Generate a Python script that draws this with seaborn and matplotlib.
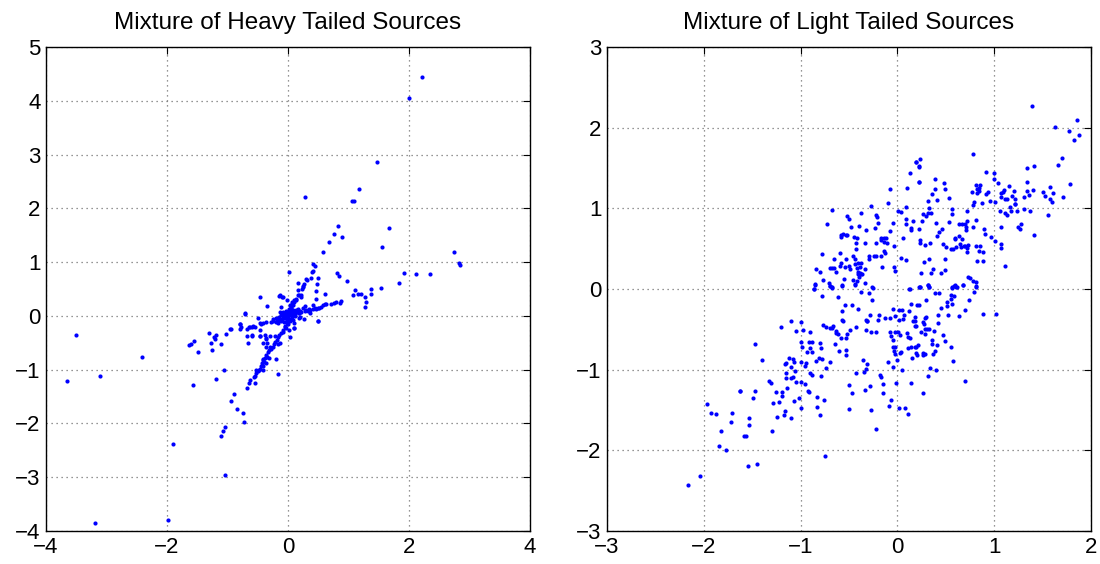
import matplotlib.pyplot as plt
import pandas as pd
import seaborn as sns

# points (x, y)
heavy_points = [
    (2.215, 4.44), (2.0, 4.06), (1.465, 2.87), (1.18, 2.36), (0.28, 2.22), (1.06, 2.13), (1.09, 2.13),
    (1.675, 1.64), (0.826, 1.67), (0.754, 1.52), (0.90, 1.46), (0.677, 1.37), (1.559, 1.28), (0.578, 1.18),
    (2.737, 1.19), (2.83, 0.98), (2.85, 0.94), (0.016, 0.81), (0.41, 0.96), (0.45, 0.92), (0.39, 0.82),
    (0.42, 0.84), (0.29, 0.69), (0.38, 0.71), (0.50, 0.70), (0.81, 0.80), (0.85, 0.74), (0.97, 0.65),
    (1.92, 0.80), (2.12, 0.775), (2.35, 0.78), (1.84, 0.61), (0.27, 0.59), (0.48, 0.59),
    (1.54, 0.51), (1.37, 0.50), (1.37, 0.41), (1.07, 0.38), (1.15, 0.40), (1.21, 0.40), (1.11, 0.48),
    (1.27, 0.35), (1.29, 0.25), (1.27, 0.17), (0.61, 0.41), (0.47, 0.47),
    (0.876, 0.28), (0.853, 0.24), (0.793, 0.25), (0.754, 0.24), (0.711, 0.22), (0.61, 0.22), (0.58, 0.20),
    (0.545, 0.17), (0.49, 0.15), (0.446, 0.14), (0.407, 0.12), (0.369, 0.11), (0.324, 0.10), (0.30, 0.11),
    (0.275, 0.10), (0.22, 0.08), (0.187, 0.06), (0.63, 0.22), (0.51, 0.15), (0.46, 0.13), (0.35, 0.12),
    (0.50, -0.10), (0.41, 0.20), (0.47, 0.31), (0.28, 0.19), (0.36, 0.06), (0.20, -0.02), (0.27, -0.05),
    (0.10, -0.22), (0.02, -0.26),
    (0.16, 0.48), (0.19, 0.38), (0.21, 0.39), (0.14, 0.31), (0.10, 0.30), (0.05, 0.20), (0.08, 0.11),
    (0.24, 0.53), (0.32, 0.66), (0.16, 0.61), (0.25, 0.55), (0.23, 0.50), (0.105, 0.25), (0.13, 0.30),
    (0.165, 0.38), (0.215, 0.36), (0.077, 0.20), (0.05, 0.16), (0.033, 0.11), (0.0, 0.08), (-0.044, 0.05),
    (-0.088, 0.02),
    (-0.47, 0.36), (-0.14, 0.39), (-0.09, 0.35), (-0.34, 0.19), (-0.71, 0.05), (-0.155, 0.37),
    (-0.115, 0.17), (-0.14, 0.08), (-0.02, 0.30),
    (-0.14, -0.07), (-0.2, -0.04), (-0.25, -0.06), (-0.28, -0.11), (-0.36, -0.12), (-0.42, -0.14),
    (-0.45, -0.15), (-0.55, -0.2), (-0.6, -0.2), (-0.64, -0.21), (-0.8, -0.15), (-0.79, -0.25),
    (-0.77, -0.20), (-0.95, -0.25), (-0.68, -0.24), (-0.63, -0.20), (-0.585, -0.19), (-0.50, -0.04),
    (-0.47, -0.14), (-0.46, -0.26),
    (-0.02, -0.136), (-0.044, -0.198), (-0.088, -0.26), (-0.11, -0.32), (-0.143, -0.35), (-0.17, -0.39),
    (-0.187, -0.45), (-0.21, -0.48), (-0.226, -0.52), (-0.253, -0.57), (-0.28, -0.61), (-0.31, -0.64),
    (-0.336, -0.67), (-0.364, -0.72), (-0.386, -0.79), (-0.408, -0.82), (-0.43, -0.88), (-0.446, -0.94),
    (-0.474, -1.0), (-0.5, -1.03), (-0.53, -1.07), (-0.55, -1.12), (-0.17, -1.08), (-0.2, -0.8),
    (-0.14, -0.51), (-0.165, -0.53), (-0.22, -0.37), (-0.29, -0.37), (-0.36, -0.43), (-0.34, -0.77),
    (-0.31, -0.79), (-0.36, -0.87), (-0.42, -0.93), (-0.39, -0.85), (-0.42, -0.81), (-0.42, -1.0),
    (-0.47, -0.99), (-0.53, -1.01), (-0.57, -1.13), (-0.54, -1.25), (-0.62, -1.20), (-0.64, -1.24),
    (-0.68, -1.35), (-0.89, -1.45), (-0.95, -1.59), (-0.84, -1.74), (-0.74, -1.80), (-0.73, -1.98),
    (-1.04, -2.07), (-1.07, -2.14), (-1.10, -2.24), (-1.04, -2.96), (-1.90, -2.38), (-1.99, -3.79),
    (-3.19, -3.86),
    (-0.38, -0.36), (-0.36, -0.41), (-0.42, -0.51), (-0.36, -0.57), (-0.34, -0.50), (-0.29, -0.57),
    (-0.67, -0.37), (-0.66, -0.51), (-0.60, -0.37), (-0.46, -0.38), (-0.47, -0.38), (-0.60, -0.36),
    (-3.51, -0.35), (-3.65, -1.21), (-3.10, -1.12), (-2.41, -0.76), (-1.06, -1.01), (-1.19, -1.18),
    (-1.57, -1.29), (-1.63, -0.54), (-1.60, -0.52), (-1.55, -0.47), (-1.49, -0.67), (-1.31, -0.32),
    (-1.23, -0.40), (-1.20, -0.43), (-1.19, -0.35), (-1.27, -0.50), (-1.25, -0.64), (-1.11, -0.53),
    (-1.02, -0.34), (-0.96, -0.25), (-0.80, -0.15), (-0.71, 0.04), (-0.10, 0.35),
    (0.094, -0.23), (0.094, -0.14), (0.04, -0.40), (0.19, -0.04), (0.49, -0.09),
    (0.0, 0.0), (0.02, 0.01), (-0.03, 0.02), (0.05, 0.03), (-0.05, -0.04), (0.08, 0.04), (-0.08, -0.03),
    (0.03, -0.05), (-0.02, -0.08), (0.1, 0.06), (-0.1, -0.06), (0.12, 0.03), (0.06, 0.09), (-0.06, 0.05),
    (0.01, 0.12), (-0.12, -0.1), (0.15, 0.08), (-0.15, -0.02), (0.04, -0.1), (-0.04, 0.1), (0.07, -0.02),
    (-0.07, -0.12), (0.13, 0.11), (0.09, -0.07), (-0.09, 0.08), (0.18, 0.05), (-0.18, -0.08), (0.02, 0.05),
    (-0.01, -0.03), (0.11, 0.0), (-0.11, 0.01), (0.0, -0.15), (0.05, 0.15), (-0.05, -0.18), (0.16, 0.13),
    (-0.16, -0.14), (0.2, 0.1), (-0.2, -0.12), (0.25, 0.14), (-0.25, -0.1), (0.03, 0.2), (-0.03, -0.22),
    (0.07, 0.25), (-0.08, -0.3),
]

light_points = [
    # upper half, middle
    (0.19, 1.57), (0.22, 1.52), (0.128, 1.44), (0.224, 1.33), (-0.079, 1.245), (0.097, 1.25),
    (-0.097, 1.06), (-0.272, 1.034), (0.09, 1.017), (-0.676, 0.984), (0.01, 0.964), (0.034, 0.951),
    (-0.372, 0.947), (-0.517, 0.906), (-0.503, 0.873), (-0.221, 0.918), (-0.21, 0.889), (-0.724, 0.80),
    (-0.2, 0.815), (-0.045, 0.819), (0.09, 0.864), (0.09, 0.80), (0.159, 0.844), (-0.483, 0.765),
    (-0.393, 0.786), (-0.321, 0.732), (-0.231, 0.761), (-0.076, 0.724), (0.138, 0.761), (0.138, 0.732),
    (-0.583, 0.666), (-0.566, 0.678), (-0.534, 0.666), (-0.521, 0.674), (-0.579, 0.641), (-0.445, 0.641),
    (-0.417, 0.633), (-0.424, 0.567), (-0.338, 0.567), (-0.221, 0.571), (-0.166, 0.629), (-0.141, 0.629),
    (-0.114, 0.629), (-0.166, 0.608), (-0.134, 0.583), (-0.103, 0.571), (-0.031, 0.534), (0.059, 0.633),
    (-0.424, 0.50), (-0.776, 0.43), (-0.59, 0.447), (-0.459, 0.405), (-0.441, 0.368), (-0.141, 0.467),
    (-0.124, 0.447), (-0.169, 0.414), (-0.221, 0.409), (-0.238, 0.409), (-0.293, 0.409), (-0.29, 0.368),
    (-0.652, 0.376), (-0.534, 0.376), (0.041, 0.385), (0.09, 0.364), (-0.845, 0.244), (-0.797, 0.207),
    (-0.693, 0.256), (-0.676, 0.26), (-0.652, 0.26), (-0.631, 0.215), (-0.593, 0.29), (-0.583, 0.323),
    (-0.538, 0.277), (-0.497, 0.285), (-0.493, 0.252), (-0.438, 0.306), (-0.407, 0.327), (-0.417, 0.265),
    (-0.372, 0.323), (-0.383, 0.277), (-0.334, 0.252), (-0.369, 0.186), (-0.403, 0.215), (-0.39, 0.203),
    (-0.372, 0.182), (-0.407, 0.182), (-0.393, 0.153), (-0.162, 0.273), (-0.034, 0.277), (-0.024, 0.219),
    (-0.772, 0.112), (-0.548, 0.128), (-0.459, 0.112), (-0.417, 0.10), (-0.438, 0.062), (-0.707, 0.07),
    (-0.693, 0.041), (-0.672, 0.029), (-0.848, 0.058), (-0.866, 0.0), (-0.576, 0.045), (-0.334, 0.079),
    (-0.259, 0.021), (0.134, 0.004), (0.221, 0.021),
    # upper half, right
    (1.389, 2.266), (1.855, 2.10), (1.624, 2.006), (1.776, 1.956), (1.875, 1.907), (1.824, 1.845),
    (0.776, 1.671), (0.234, 1.617), (0.197, 1.572), (0.218, 1.51), (1.70, 1.625), (1.655, 1.538),
    (1.344, 1.505), (1.41, 1.522), (0.227, 1.332), (0.92, 1.447), (1.0, 1.435), (0.993, 1.365),
    (0.393, 1.365), (0.479, 1.311), (0.389, 1.245), (0.496, 1.241), (0.355, 1.175), (0.32, 1.088),
    (0.413, 1.108), (0.534, 1.129), (0.813, 1.294), (0.858, 1.286), (0.82, 1.241), (0.841, 1.249),
    (0.848, 1.22), (0.769, 1.208), (0.827, 1.187), (0.913, 1.175), (0.934, 1.203), (0.793, 1.075),
    (0.782, 1.046), (0.879, 1.063), (0.955, 1.096), (1.013, 1.084), (1.038, 1.311), (1.075, 1.187),
    (1.103, 1.228), (1.089, 1.199), (1.068, 1.146), (1.11, 1.121), (1.131, 1.121), (1.158, 1.282),
    (1.182, 1.154), (1.2, 1.212), (1.213, 1.121), (1.21, 1.055), (1.307, 1.137), (1.341, 1.22),
    (1.362, 1.166), (1.403, 1.224), (1.341, 1.323), (1.503, 1.208), (1.52, 1.154), (1.576, 1.27),
    (1.61, 1.195), (1.572, 1.112), (1.6, 1.079), (1.71, 1.146), (1.782, 1.303), (0.317, 0.939),
    (0.351, 0.939), (0.327, 1.0), (0.265, 0.926), (0.296, 0.906), (0.562, 0.988), (0.562, 0.926),
    (0.717, 0.964), (1.058, 0.972), (1.11, 0.939), (1.131, 0.918), (1.165, 1.021), (1.169, 0.964),
    (1.231, 0.964), (1.213, 1.055), (1.313, 0.992), (1.375, 0.968), (1.559, 0.914), (0.258, 0.84),
    (0.4, 0.823), (0.534, 0.827), (0.665, 0.806), (0.7, 0.806), (0.638, 0.802), (0.724, 0.848),
    (0.817, 0.856), (0.71, 0.769), (0.782, 0.765), (0.713, 0.732), (0.227, 0.74), (0.462, 0.749),
    (0.434, 0.707), (0.407, 0.662), (0.896, 0.74), (0.903, 0.678), (0.972, 0.645), (1.007, 0.60),
    (1.072, 0.769), (1.241, 0.765), (1.269, 0.744), (1.276, 0.802), (1.406, 0.666), (0.234, 0.608),
    (0.237, 0.575), (0.334, 0.567), (0.286, 0.55), (0.469, 0.558), (0.503, 0.517), (0.551, 0.50),
    (0.579, 0.50), (0.606, 0.525), (0.596, 0.625), (0.596, 0.637), (0.638, 0.653), (0.672, 0.625),
    (0.648, 0.562), (0.662, 0.525), (0.686, 0.533), (0.703, 0.538), (0.731, 0.542), (0.724, 0.509),
    (0.72, 0.463), (0.807, 0.538), (0.855, 0.529), (0.841, 0.476), (0.886, 0.455), (0.827, 0.352),
    (0.889, 0.343), (1.068, 0.558), (1.072, 0.505), (1.107, 0.285), (0.279, 0.339), (0.331, 0.368),
    (0.372, 0.244), (0.345, 0.194), (0.244, 0.194), (0.493, 0.368), (0.496, 0.24), (0.451, 0.194),
    (0.317, 0.05), (0.331, 0.029), (0.231, 0.021), (0.565, 0.021), (0.6, 0.045), (0.617, 0.021),
    (0.682, 0.05), (0.734, 0.153), (0.745, 0.136), (0.786, 0.099), (0.807, 0.087), (0.807, 0.037),
    # lower tail, left
    (-1.624, -1.261), (-1.969, -1.423), (-1.928, -1.534), (-1.872, -1.551), (-1.71, -1.543),
    (-1.717, -1.646), (-1.824, -1.766), (-1.848, -1.952), (-1.772, -1.998), (-2.038, -2.316),
    (-2.162, -2.432), (-1.586, -1.82),
    # lower half, middle
    (-0.848, 0.05), (-0.866, -0.004), (-0.7, 0.037), (-0.679, 0.017), (-0.576, 0.041), (-0.438, 0.05),
    (-0.379, -0.041), (-0.293, -0.05), (-0.255, 0.017), (-0.262, -0.136), (-0.776, -0.091),
    (-0.617, -0.099), (-0.545, -0.203), (-0.469, -0.203), (-0.403, -0.252), (-0.576, -0.277),
    (-0.569, -0.385), (-0.562, -0.397), (-0.286, -0.323), (-0.314, -0.393), (-0.328, -0.389),
    (-0.203, -0.38), (-0.19, -0.327), (-0.124, -0.364), (-0.079, -0.364), (-0.048, -0.252),
    (-0.024, -0.335), (0.021, -0.389), (0.062, -0.372), (0.066, -0.327), (0.045, -0.26), (0.021, -0.26),
    (0.124, -0.273), (0.138, -0.182), (0.124, -0.004), (0.183, -0.343), (0.162, -0.397), (0.19, -0.459),
    (0.203, -0.199), (-1.1, -0.397), (-1.203, -0.475), (-1.052, -0.521), (-1.0, -0.405), (-0.972, -0.509),
    (-0.907, -0.529), (-0.772, -0.45), (-0.738, -0.475), (-0.679, -0.484), (-0.7, -0.488),
    (-0.662, -0.463), (-0.631, -0.517), (-0.634, -0.542), (-0.614, -0.562), (-0.586, -0.604),
    (-0.534, -0.608), (-0.521, -0.562), (-0.49, -0.513), (-0.424, -0.475), (-0.317, -0.393),
    (-0.321, -0.513), (-0.269, -0.538), (-0.224, -0.529), (-1.476, -0.682), (-1.4, -0.885),
    (-1.152, -0.914), (-1.162, -0.93), (-1.121, -0.86), (-1.076, -0.872), (-1.069, -0.905),
    (-0.993, -0.662), (-0.99, -0.715), (-0.914, -0.662), (-0.886, -0.653), (-0.931, -0.778),
    (-0.883, -0.778), (-0.9, -0.728), (-0.803, -0.674), (-0.793, -0.728), (-0.807, -0.852),
    (-0.779, -0.868), (-0.838, -0.893), (-0.741, -0.976), (-0.693, -0.902), (-0.645, -0.682),
    (-0.607, -0.765), (-0.528, -0.761), (-0.528, -0.819), (-0.993, -0.91), (-0.948, -0.922),
    (-0.952, -0.959), (-0.903, -1.038), (-0.886, -1.067), (-0.793, -1.079), (-1.103, -0.968),
    (-1.062, -1.021), (-1.152, -1.1), (-1.103, -1.104), (-1.052, -1.158), (-0.993, -1.158),
    (-0.959, -1.174), (-1.079, -1.092), (-1.148, -1.038), (-1.324, -1.146), (-1.31, -1.166),
    (-1.252, -1.282), (-1.193, -1.282), (-1.19, -1.328), (-1.145, -1.224), (-0.924, -1.266),
    (-0.914, -1.278), (-1.017, -1.356), (-1.069, -1.39), (-1.0, -1.476), (-1.621, -1.266),
    (-1.476, -1.27), (-1.493, -1.356), (-1.286, -1.419), (-1.224, -1.406), (-1.159, -1.518),
    (-1.176, -1.567), (-1.241, -1.592), (-1.097, -1.605), (-0.831, -1.34), (-0.759, -1.381),
    (-0.831, -1.468), (-0.803, -1.563), (-1.528, -1.605), (-1.538, -1.687), (-1.569, -1.824),
    (-1.293, -1.762), (-1.541, -2.196), (-1.448, -2.171), (-0.752, -2.068), (-0.497, -1.191),
    (-0.469, -1.29), (-0.497, -1.485), (-0.276, -1.501), (-0.334, -1.253), (-0.286, -1.208),
    (-0.179, -1.063), (-0.169, -1.092), (-0.152, -1.179), (-0.145, -1.294), (-0.217, -1.737),
    (-0.014, -1.166), (-0.069, -1.381), (-0.083, -1.456), (0.017, -1.472), (0.083, -1.472),
    (0.114, -1.555), (-0.431, -1.038), (-0.345, -1.034), (-0.328, -0.993), (-0.359, -0.881),
    (-0.314, -0.926), (-0.1, -0.906), (-0.003, -0.881), (-0.028, -0.807), (-0.038, -0.773),
    (-0.021, -0.724), (-0.045, -0.715), (0.028, -0.79), (0.041, -0.778), (0.114, -0.728),
    (0.145, -0.724), (0.155, -0.86), (0.193, -0.79), (0.186, -0.715), (0.217, -0.695),
    (-0.062, -0.579), (-0.045, -0.637), (-0.079, -0.529), (-0.028, -0.529), (0.007, -0.529),
    (0.024, -0.571), (0.1, -0.55), (0.11, -0.591), (0.131, -0.612), (-0.045, -0.968), (0.052, -1.009),
    (0.145, -1.17),
    # lower half, right
    (0.231, 0.025), (0.317, 0.05), (0.324, 0.025), (0.386, -0.05), (0.427, -0.045), (0.565, 0.017),
    (0.582, 0.037), (0.61, 0.021), (0.682, 0.045), (0.793, -0.033), (0.807, 0.029), (0.558, -0.074),
    (0.582, -0.087), (0.551, -0.12), (0.744, -0.141), (0.51, -0.165), (0.513, -0.207), (0.568, -0.182),
    (0.448, -0.24), (0.3, -0.141), (0.22, -0.203), (0.7, -0.265), (0.424, -0.327), (0.524, -0.327),
    (0.638, -0.331), (0.886, -0.306), (1.017, -0.314), (0.179, -0.393), (0.269, -0.409), (0.289, -0.364),
    (0.296, -0.347), (0.272, -0.434), (0.286, -0.492), (0.31, -0.5), (0.327, -0.5), (0.248, -0.529),
    (0.286, -0.562), (0.376, -0.521), (0.179, -0.455), (0.42, -0.418), (0.469, -0.571), (0.493, -0.649),
    (0.355, -0.633), (0.358, -0.682), (0.413, -0.699), (0.551, -0.724), (0.189, -0.72), (0.207, -0.819),
    (0.265, -0.819), (0.269, -0.79), (0.286, -0.802), (0.372, -0.806), (0.386, -0.773), (0.572, -0.897),
    (0.341, -0.984), (0.403, -1.009), (0.313, -1.084), (0.7, -1.146), (0.269, -1.294),
]

heavy = pd.DataFrame(heavy_points, columns=["x", "y"])
light = pd.DataFrame(light_points, columns=["x", "y"])

sns.set_style("white")
plt.rcParams['font.family'] = ['Liberation Sans', 'DejaVu Sans']
plt.rcParams['text.color'] = 'black'

fig = plt.figure(figsize=(11, 5.64), dpi=100)
ax1 = fig.add_axes([46 / 1100, 33 / 564, 484 / 1100, 484 / 564])
ax2 = fig.add_axes([607 / 1100, 33 / 564, 484 / 1100, 484 / 564])

panels = [
    (ax1, heavy, "Mixture of Heavy Tailed Sources", (-4, 4), (-4, 5), range(-4, 5, 2), range(-4, 6)),
    (ax2, light, "Mixture of Light Tailed Sources", (-3, 2), (-3, 3), range(-3, 3), range(-3, 4)),
]

for ax, df, title, xlim, ylim, xt, yt in panels:
    sns.scatterplot(data=df, x="x", y="y", ax=ax, color="#0000ff",
                    s=9, linewidth=0, legend=False)
    ax.set_xlim(xlim)
    ax.set_ylim(ylim)
    ax.set_xticks(list(xt))
    ax.set_yticks(list(yt))
    ax.set_xlabel("")
    ax.set_ylabel("")
    ax.set_axisbelow(True)
    ax.grid(True, linestyle=(0, (1, 3)), color="0.45", linewidth=0.9)
    ax.tick_params(direction="in", top=True, right=True, length=5,
                   width=0.8, labelsize=16, pad=4, colors="black")
    ax.set_title(title, fontsize=17.5, pad=13, color="black")
    for sp in ax.spines.values():
        sp.set_color("black")
        sp.set_linewidth(1)

fig.savefig("out.png", dpi=100)
